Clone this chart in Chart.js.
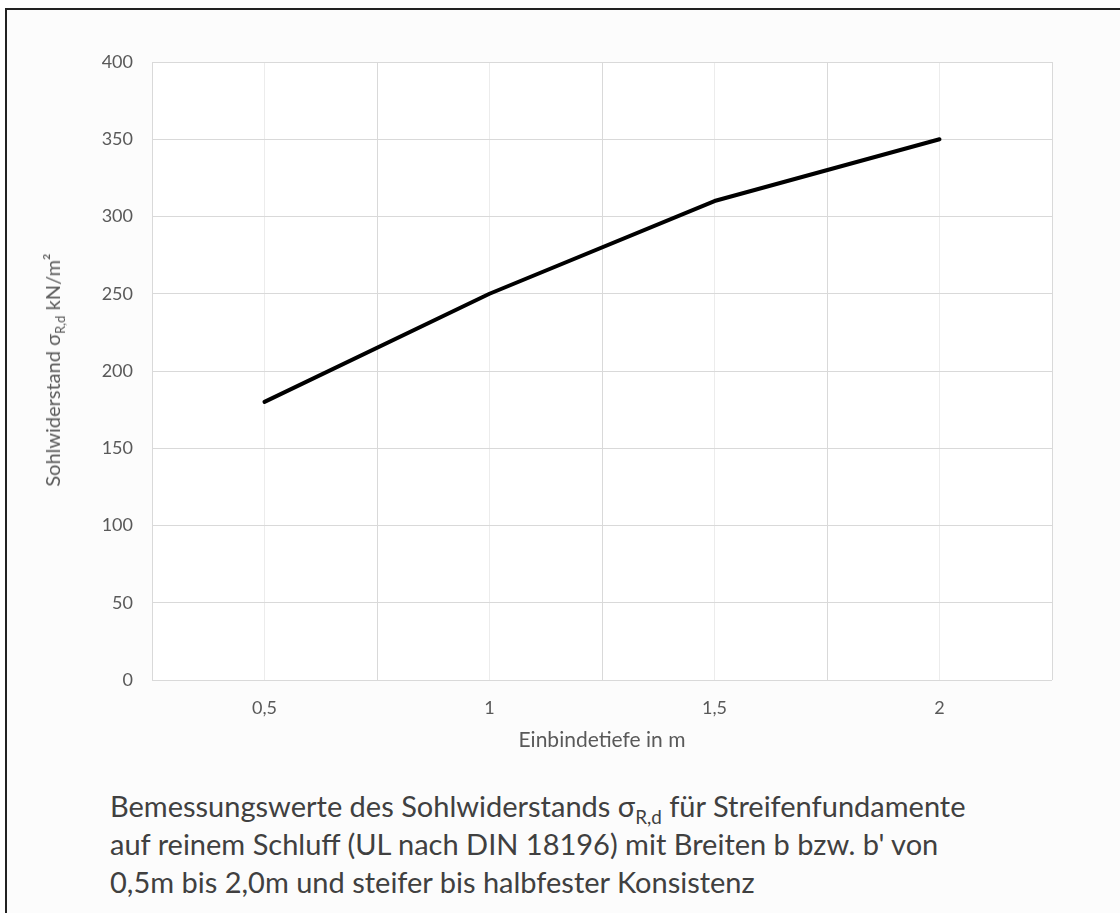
<!DOCTYPE html>
<html lang="de">
<head>
    <meta charset="UTF-8">
    <title>Sohlwiderstand Streifenfundamente</title>
    <script src="https://cdn.jsdelivr.net/npm/chart.js"></script>
    <style>
        body { margin: 0; background: #fff; font-family: Lato, "Open Sans", sans-serif; }
        .frame {
            position: absolute; left: 5px; top: 8px; width: 1200px; height: 1000px;
            border: 2px solid #222; background: #fcfcfc; box-sizing: border-box;
        }
        .chart-box { position: absolute; left: 0; top: 0; width: 1120px; height: 757px; }
        .ytitle {
            position: absolute; left: 52px; top: 370px; white-space: nowrap;
            transform: translate(-50%, -50%) rotate(-90deg);
            font-size: 20px; color: #595959;
        }
        .ytitle sub, .caption sub { font-size: 0.65em; vertical-align: -0.35em; line-height: 0; }
        .caption {
            position: absolute; left: 110px; top: 787px;
            font-size: 29px; line-height: 38px; color: #404040;
        }
    </style>
</head>
<body>
    <div class="frame"></div>
    <div class="chart-box"><canvas id="sohlChart"></canvas></div>
    <div class="ytitle">Sohlwiderstand σ<sub>R,d</sub> kN/m²</div>
    <div class="caption">
        Bemessungswerte des Sohlwiderstands σ<sub>R,d</sub> für Streifenfundamente<br>
        auf reinem Schluff (UL nach DIN 18196) mit Breiten b bzw. b' von<br>
        0,5m bis 2,0m und steifer bis halbfester Konsistenz
    </div>

    <script>
        // Einbindetiefe (m) und Sohlwiderstand (kN/m²)
        const depths = [0.5, 1, 1.5, 2];
        const depthLabels = ['0,5', '1', '1,5', '2'];
        const resistance = [180, 250, 310, 350];
        const yTicks = [0, 50, 100, 150, 200, 250, 300, 350, 400];

        const plotBg = {
            id: 'plotBg',
            beforeDraw(chart) {
                const {ctx, chartArea: a} = chart;
                ctx.save();
                ctx.fillStyle = '#ffffff';
                ctx.fillRect(a.left, a.top, a.right - a.left, a.bottom - a.top);
                ctx.restore();
            }
        };

        const ctx = document.getElementById('sohlChart').getContext('2d');
        new Chart(ctx, {
            type: 'line',
            data: {
                datasets: [{
                    data: depths.map((d, i) => ({x: d, y: resistance[i]})),
                    borderColor: '#000',
                    borderWidth: 4,
                    borderCapStyle: 'round',
                    borderJoinStyle: 'round',
                    pointRadius: 0,
                    tension: 0,
                    fill: false
                }]
            },
            options: {
                responsive: true,
                maintainAspectRatio: false,
                animation: false,
                layout: { padding: { top: 62, right: 68, left: 0, bottom: 0 } },
                plugins: { legend: { display: false }, tooltip: { enabled: false } },
                scales: {
                    x: {
                        type: 'linear',
                        min: 0.25,
                        max: 2.25,
                        afterBuildTicks: scale => {
                            const t = [];
                            for (let i = 0; i <= 8; i++) t.push({value: 0.25 + i * 0.25});
                            scale.ticks = t;
                        },
                        afterFit: scale => { scale.height = 77; },
                        ticks: {
                            autoSkip: false,
                            maxRotation: 0,
                            padding: 17,
                            color: '#595959',
                            font: { family: 'Lato', size: 18 },
                            callback: v => {
                                const i = depths.findIndex(d => Math.abs(d - v) < 1e-6);
                                return i >= 0 ? depthLabels[i] : '';
                            }
                        },
                        grid: {
                            drawTicks: false,
                            color: c => {
                                const i = depths.findIndex(d => Math.abs(d - c.tick.value) < 1e-6);
                                return i >= 0 ? '#ececec' : '#d9d9d9';
                            }
                        },
                        border: { display: false },
                        title: {
                            display: true,
                            text: 'Einbindetiefe in m',
                            color: '#595959',
                            font: { family: 'Lato', size: 21 },
                            padding: { top: 10, bottom: 4 }
                        }
                    },
                    y: {
                        min: 0,
                        max: 400,
                        afterBuildTicks: scale => { scale.ticks = yTicks.map(v => ({value: v})); },
                        afterFit: scale => { scale.width = 152; },
                        ticks: {
                            padding: 19,
                            color: '#595959',
                            font: { family: 'Lato', size: 18 }
                        },
                        grid: { drawTicks: false, color: '#d9d9d9' },
                        border: { display: false }
                    }
                }
            },
            plugins: [plotBg]
        });
    </script>
</body>
</html>
